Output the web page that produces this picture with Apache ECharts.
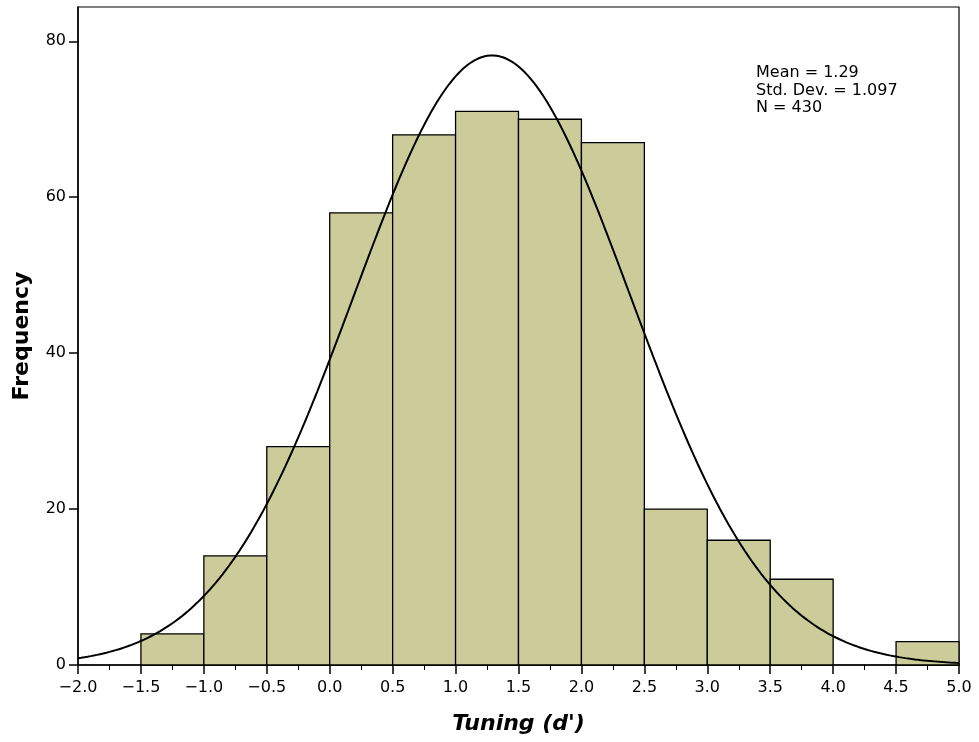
<!DOCTYPE html>
<html>
<head>
<meta charset="utf-8">
<script src="https://cdn.jsdelivr.net/npm/echarts@6/dist/echarts.min.js"></script>
<style>html,body{margin:0;padding:0;background:#fff}#c{width:979px;height:742px}</style>
</head>
<body>
<div id="c"></div>
<script>
// Histogram bins (lower edge, upper edge) and frequencies
var binStarts = [-1.5, -1.0, -0.5, 0.0, 0.5, 1.0, 1.5, 2.0, 2.5, 3.0, 3.5, 4.0, 4.5];
var binWidth = 0.5;
var frequencies = [4, 14, 28, 58, 68, 71, 70, 67, 20, 16, 11, 0, 3];
// Summary statistics shown on the chart
var statMean = 1.29;
var statSD = 1.097;
var statN = 430;
var statLabels = ['Mean = 1.29', 'Std. Dev. = 1.097', 'N = 430'];

var barData = binStarts.map(function (s, i) { return [s, s + binWidth, frequencies[i]]; });

// Fitted normal curve from the displayed statistics
var curve = [];
for (var k = 0; k <= 280; k++) {
  var x = -2 + k * 0.025;
  var z = (x - statMean) / statSD;
  curve.push([x, statN * binWidth * Math.exp(-0.5 * z * z) / (statSD * Math.sqrt(2 * Math.PI))]);
}

var FONT = 'DejaVu Sans';
var chart = echarts.init(document.getElementById('c'), null, {renderer: 'canvas'});
chart.setOption({
  animation: false,
  backgroundColor: '#fff',
  grid: {left: 78, right: 20, top: 7, bottom: 77, outerBoundsMode: 'none', containLabel: false,
    show: true, borderColor: '#000', borderWidth: 1.2, backgroundColor: 'transparent'},
  xAxis: {
    type: 'value', min: -2, max: 5, interval: 0.5,
    axisLine: {onZero: false, lineStyle: {color: '#000', width: 1.5}},
    axisTick: {show: true, inside: false, length: 9, lineStyle: {color: '#000', width: 1.5}},
    minorTick: {show: true, splitNumber: 2, length: 5, lineStyle: {color: '#000', width: 1}},
    splitLine: {show: false},
    axisLabel: {color: '#000', fontFamily: FONT, fontSize: 16, margin: 15,
      formatter: function (v) { var s = Math.abs(v).toFixed(1); return v < 0 ? '\u2212' + s : s; }},
    name: "Tuning (d')", nameLocation: 'middle', nameGap: 48,
    nameTextStyle: {color: '#000', fontFamily: FONT, fontSize: 22, fontWeight: 'bold', fontStyle: 'italic'}
  },
  yAxis: {
    type: 'value', min: 0, max: 84.4, interval: 20,
    axisLine: {show: true, onZero: false, lineStyle: {color: '#000', width: 1.5}},
    axisTick: {show: true, inside: false, length: 9, lineStyle: {color: '#000', width: 1.5}},
    splitLine: {show: false},
    axisLabel: {color: '#000', fontFamily: FONT, fontSize: 16, margin: 12,
      showMaxLabel: false,
      formatter: function (v) { return v <= 80 ? String(v) : ''; }},
    name: 'Frequency', nameLocation: 'middle', nameGap: 45, nameRotate: 90,
    nameTextStyle: {color: '#000', fontFamily: FONT, fontSize: 22, fontWeight: 'bold'}
  },
  series: [
    {
      type: 'custom',
      data: barData,
      encode: {x: [0, 1], y: 2},
      renderItem: function (params, api) {
        var p0 = api.coord([api.value(0), 0]);
        var p1 = api.coord([api.value(1), api.value(2)]);
        if (api.value(2) <= 0) return null;
        return {
          type: 'rect',
          shape: {x: p0[0], y: p1[1], width: p1[0] - p0[0], height: p0[1] - p1[1]},
          style: {fill: '#CBCC9A', stroke: '#000', lineWidth: 1.3}
        };
      },
      z: 2
    },
    {
      type: 'line', data: curve, showSymbol: false, smooth: false,
      lineStyle: {color: '#000', width: 2}, z: 3
    }
  ],
  graphic: statLabels.map(function (t, i) {
    return {type: 'text', left: 756, top: 65 + i * 17.5,
      style: {text: t, fill: '#000', font: '16px "DejaVu Sans"'}};
  })
});
</script>
</body>
</html>
